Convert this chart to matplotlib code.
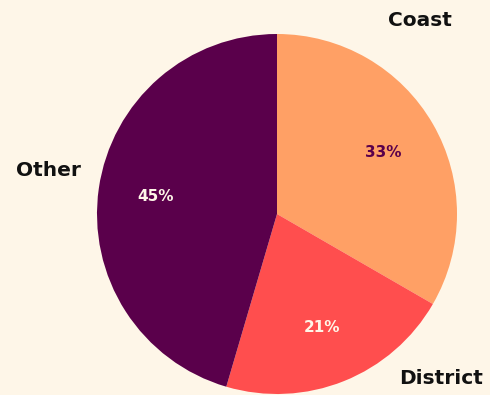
import numpy as np
import matplotlib
matplotlib.use("Agg")
import matplotlib.pyplot as plt

# Region shares (percent)
regions = ["Coast", "District", "Other"]
shares = [33, 21, 45]
slice_colors = ["#FFA065", "#FF4E4E", "#5A004B"]
pct_text_colors = ["#5A004B", "#FFF6E8", "#FFF6E8"]

BG = "#FEF6E8"
FONT = ["DejaVu Sans"]

W, H = 490, 395
fig = plt.figure(figsize=(W / 100, H / 100), dpi=100, facecolor=BG)

# Square axes holding the pie: centre (277, 214) px, radius 180 px
cx, cy, r = 277, 214, 180
ax = fig.add_axes([(cx - r) / W, (H - cy - r) / H, 2 * r / W, 2 * r / H])
ax.set_facecolor(BG)
ax.axis("off")

wedges, _ = ax.pie(
    shares,
    colors=slice_colors,
    startangle=90,
    counterclock=False,
    radius=1.0,
    wedgeprops=dict(linewidth=0),
)
ax.set_xlim(-1, 1)
ax.set_ylim(-1, 1)

# Percentage labels at the middle of each wedge
for w, val, tc in zip(wedges, shares, pct_text_colors):
    mid = np.deg2rad((w.theta1 + w.theta2) / 2)
    ax.text(0.68 * np.cos(mid), 0.68 * np.sin(mid), f"{val}%",
            ha="center", va="center", fontsize=11, fontweight="bold",
            color=tc, family=FONT)

# Region names around the pie
name_pos = {"Coast": (420 / W, 1 - 20 / H),
            "District": (441 / W, 1 - 378 / H),
            "Other": (48 / W, 1 - 170 / H)}
for name in regions:
    x, y = name_pos[name]
    fig.text(x, y, name, ha="center", va="center", fontsize=14.5,
             fontweight="bold", color="#111111", family=FONT)

fig.savefig("out.png", dpi=100, facecolor=BG)
